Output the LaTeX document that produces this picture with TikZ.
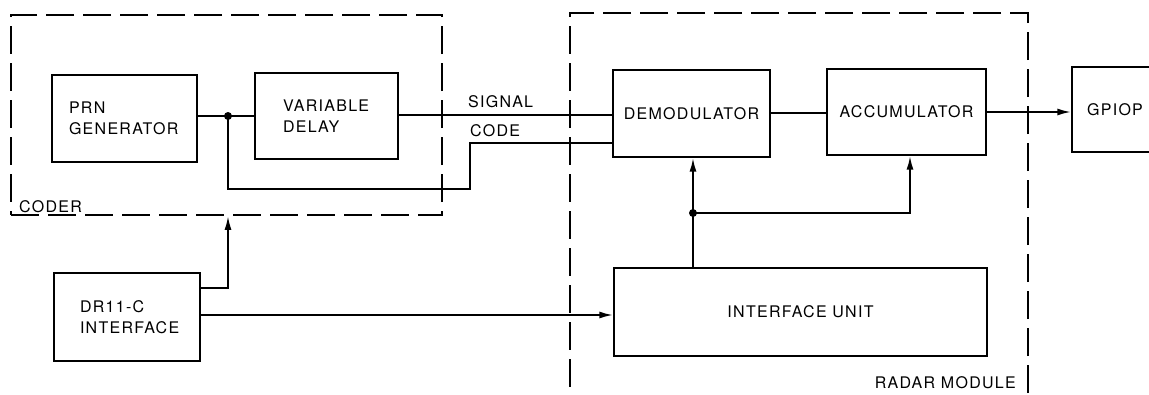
\documentclass[tikz,border=0pt]{standalone}
\usepackage{fontspec}
\setmainfont{TeX Gyre Heros}[LetterSpace=8]
\usetikzlibrary{arrows.meta}
\begin{document}
\begin{tikzpicture}[x=1pt,y=-1pt,
  every node/.style={font=\fontsize{16}{21}\selectfont},
  blk/.style={draw, line width=1.4pt, inner sep=0pt},
  lblk/.style={blk, align=left},
  grp/.style={draw, line width=1.6pt, dash pattern=on 28pt off 9pt, inner sep=0pt},
  conn/.style={line width=2pt},
  arr/.style={conn, -{Latex[length=14pt,width=7pt]}},
  dot/.style={circle, fill, inner sep=0pt, minimum size=8pt},
  txt/.style={inner sep=0pt}]
\useasboundingbox (0,0) rectangle (1149,394);
\clip (0,0) rectangle (1149,394);
\fill[white] (0,0) rectangle (1149,394);
% groups
\node[grp, minimum width=431pt, minimum height=200pt] (coder) at (226.5,115) {};
\node[grp, minimum width=458pt, minimum height=440pt] (radar) at (799,233) {};
% blocks
\node[lblk, minimum height=87pt, text width=111pt, inner xsep=17pt] (prn) at (124.5,118.5) {PRN\\GENERATOR};
\node[lblk, minimum height=86pt, text width=87pt, inner xsep=28pt] (vd) at (326.5,116) {VARIABLE\\DELAY};
\node[blk, minimum width=157pt, minimum height=87pt] (demod) at (691.5,113.5) {DEMODULATOR};
\node[blk, minimum width=159pt, minimum height=86pt] (accum) at (906.5,112) {ACCUMULATOR};
\node[blk, minimum width=86pt, minimum height=85pt] (gpiop) at (1115,109.5) {GPIOP};
\node[blk, minimum width=373pt, minimum height=88pt] (iface) at (800.5,312) {INTERFACE UNIT};
\node[lblk, minimum height=88pt, text width=94pt, inner xsep=26pt] (dr) at (127,317) {DR11-C\\INTERFACE};
% labels
\node[txt, anchor=west] (lsig) at (468,102) {SIGNAL};
\node[txt, anchor=west] (lcode) at (470,131) {CODE};
\node[txt, anchor=west] (lcoder) at (19,207) {CODER};
\node[txt, anchor=east] (lradar) at (1016,383) {RADAR MODULE};
% coordinates
\coordinate (j1) at (228,116);
\coordinate (sig) at (398,115);
\coordinate (ac) at (770,113);
\coordinate (c1) at (228,189);
\coordinate (c2) at (470,189);
\coordinate (c3) at (470,143);
\coordinate (j2) at (693,213);
\coordinate (j3) at (910,213);
\coordinate (d1) at (228,288);
\coordinate (d2) at (200,315);
% connectors
\draw[conn] (j1 -| prn.east) -- (j1 -| vd.west);
\draw[conn] (sig -| vd.east) -- (sig -| demod.west);
\draw[conn] (j1) -- (c1) -- (c2) -- (c3) -- (c3 -| demod.west);
\node[dot] (dj1) at (j1) {};
\draw[conn] (ac -| demod.east) -- (ac -| accum.west);
\draw[arr] (accum.east) -- (accum.east -| gpiop.west);
\draw[conn] (j2 |- iface.north) -- (j2);
\draw[arr] (j2) -- (j2 |- demod.south);
\draw[arr] (j2) -- (j3) -- (j3 |- accum.south);
\node[dot] (dj2) at (j2) {};
\draw[arr] (d1 -| dr.east) -- (d1) -- (d1 |- coder.south);
\draw[arr] (d2 -| dr.east) -- (d2 -| iface.west);
\end{tikzpicture}
\end{document}
